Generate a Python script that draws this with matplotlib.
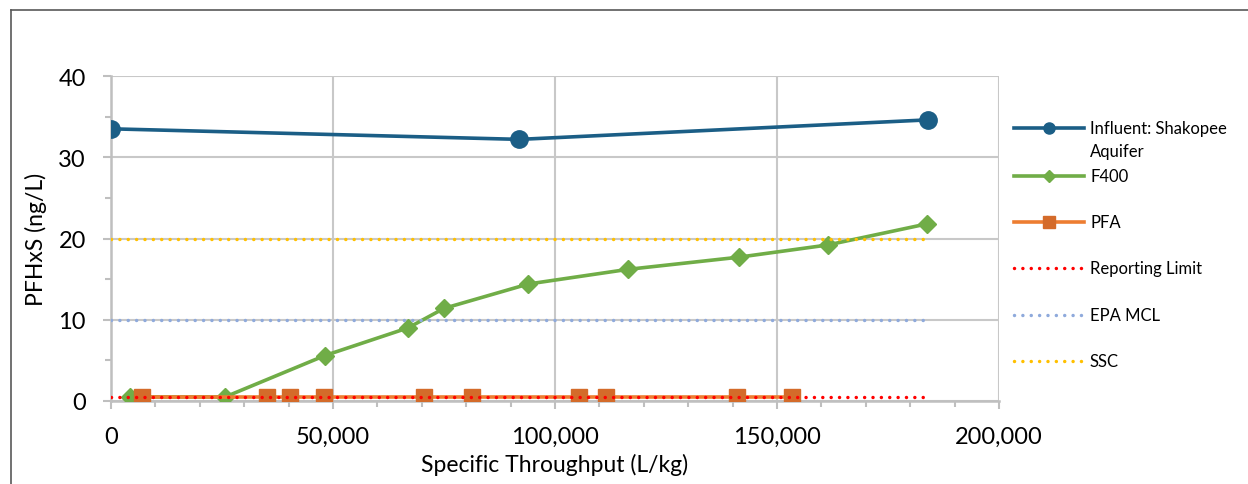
import matplotlib
matplotlib.use("Agg")
import matplotlib.pyplot as plt
from matplotlib.lines import Line2D
from matplotlib.ticker import MultipleLocator, FuncFormatter

plt.rcParams['font.family'] = ['Lato', 'DejaVu Sans']

# PFHxS breakthrough data (ng/L vs specific throughput in L/kg)
influent_x = [0, 92000, 184000]
influent_y = [33.5, 32.2, 34.6]

f400_x = [4300, 25700, 48200, 66900, 75000, 94000, 116400, 141400, 161400, 183800]
f400_y = [0.5, 0.5, 5.6, 9.0, 11.4, 14.4, 16.2, 17.7, 19.2, 21.8]

pfa_x = [6900, 35100, 40300, 48000, 70500, 81300, 105400, 111500, 141100, 153400]
pfa_y = [0.5, 0.5, 0.5, 0.5, 0.5, 0.5, 0.5, 0.5, 0.5, 0.5]

limit_x = [0, 184000]
reporting_limit = [0.5, 0.5]
epa_mcl = [10, 10]
ssc = [20, 20]

W, H = 1248, 485
fig = plt.figure(figsize=(W / 100, H / 100), dpi=100)
ax = fig.add_axes([111 / W, 1 - 402 / H, 888 / W, 325 / H])

dot = (0, (0.01, 2.4))
grid_c = '#C8C8C8'

styles = [
    dict(color='#1B5E86', lw=2.6, marker='o', ms=12.5, mfc='#1B5E86', mec='#1B5E86'),
    dict(color='#70AD47', lw=2.6, marker='D', ms=9, mfc='#70AD47', mec='#70AD47'),
    dict(color='#ED7D31', lw=2.6, marker='s', ms=12, mfc='#D46B2A', mec='#D46B2A'),
    dict(color='#FF0000', lw=2.5, ls=dot, dash_capstyle='round'),
    dict(color='#8FAADC', lw=2.5, ls=dot, dash_capstyle='round'),
    dict(color='#FFC000', lw=2.5, ls=dot, dash_capstyle='round'),
]
labels = ['Influent: Shakopee\nAquifer', 'F400', 'PFA', 'Reporting Limit', 'EPA MCL', 'SSC']

ax.plot(influent_x, influent_y, zorder=3, **styles[0])
ax.plot(f400_x, f400_y, zorder=4, **styles[1])
ax.plot(pfa_x, pfa_y, zorder=5, **styles[2])
ax.plot(limit_x, reporting_limit, zorder=6, **styles[3])
ax.plot(limit_x, epa_mcl, zorder=6, **styles[4])
ax.plot(limit_x, ssc, zorder=6, **styles[5])

ax.set_xlim(0, 200000)
ax.set_ylim(0, 40)
ax.xaxis.set_major_locator(MultipleLocator(50000))
ax.xaxis.set_minor_locator(MultipleLocator(10000))
ax.yaxis.set_major_locator(MultipleLocator(10))
ax.yaxis.set_minor_locator(MultipleLocator(5))
ax.xaxis.set_major_formatter(FuncFormatter(lambda v, p: f'{int(v):,}'))

ax.grid(True, which='major', color=grid_c, lw=1.5, zorder=0)
ax.set_axisbelow(True)
for s in ['top', 'right']:
    ax.spines[s].set_visible(False)
for s in ['left', 'bottom']:
    ax.spines[s].set_color('#BFBFBF')
    ax.spines[s].set_linewidth(1.8)

ax.tick_params(which='major', length=6, width=1.5, color='#BFBFBF',
               labelsize=17, pad=12)
ax.tick_params(which='minor', length=4, width=1.5, color='#BFBFBF')
ax.tick_params(axis='x', which='major', pad=12)

ax.set_xlabel('Specific Throughput (L/kg)', fontsize=16.5, labelpad=4)
ax.set_ylabel('PFHxS (ng/L)', fontsize=16.5, labelpad=8)

# legend drawn by hand so the two-line entry keeps its marker on the first line
fx = lambda x: x / W
fy = lambda y: 1 - y / H
legend_y = [129, 177, 223, 269, 316, 362]
for st, lab, y in zip(styles, labels, legend_y):
    line_kw = {k: v for k, v in st.items() if k not in ('marker', 'ms', 'mfc', 'mec')}
    fig.add_artist(Line2D([fx(1014), fx(1084)], [fy(y), fy(y)],
                          transform=fig.transFigure, **line_kw))
    if 'marker' in st:
        ms = {'o': 8, 'D': 6.5, 's': 8.5}[st['marker']]
        fig.add_artist(Line2D([fx(1049)], [fy(y)], transform=fig.transFigure,
                              marker=st['marker'], ms=ms, mfc=st['mfc'],
                              mec=st['mec'], ls='none'))
    fig.text(fx(1090), fy(y), lab.split('\n')[0], fontsize=12, va='center', ha='left')
    if '\n' in lab:
        fig.text(fx(1090), fy(y + 23), lab.split('\n')[1], fontsize=12,
                 va='center', ha='left')

# chart frame
frame_c = '#595959'
fig.add_artist(Line2D([fx(11), fx(11)], [fy(11), 0], transform=fig.transFigure,
                      color=frame_c, lw=1.2))
fig.add_artist(Line2D([fx(11), 1], [fy(11), fy(11)], transform=fig.transFigure,
                      color=frame_c, lw=1.2))

fig.savefig('out.png', dpi=100)
